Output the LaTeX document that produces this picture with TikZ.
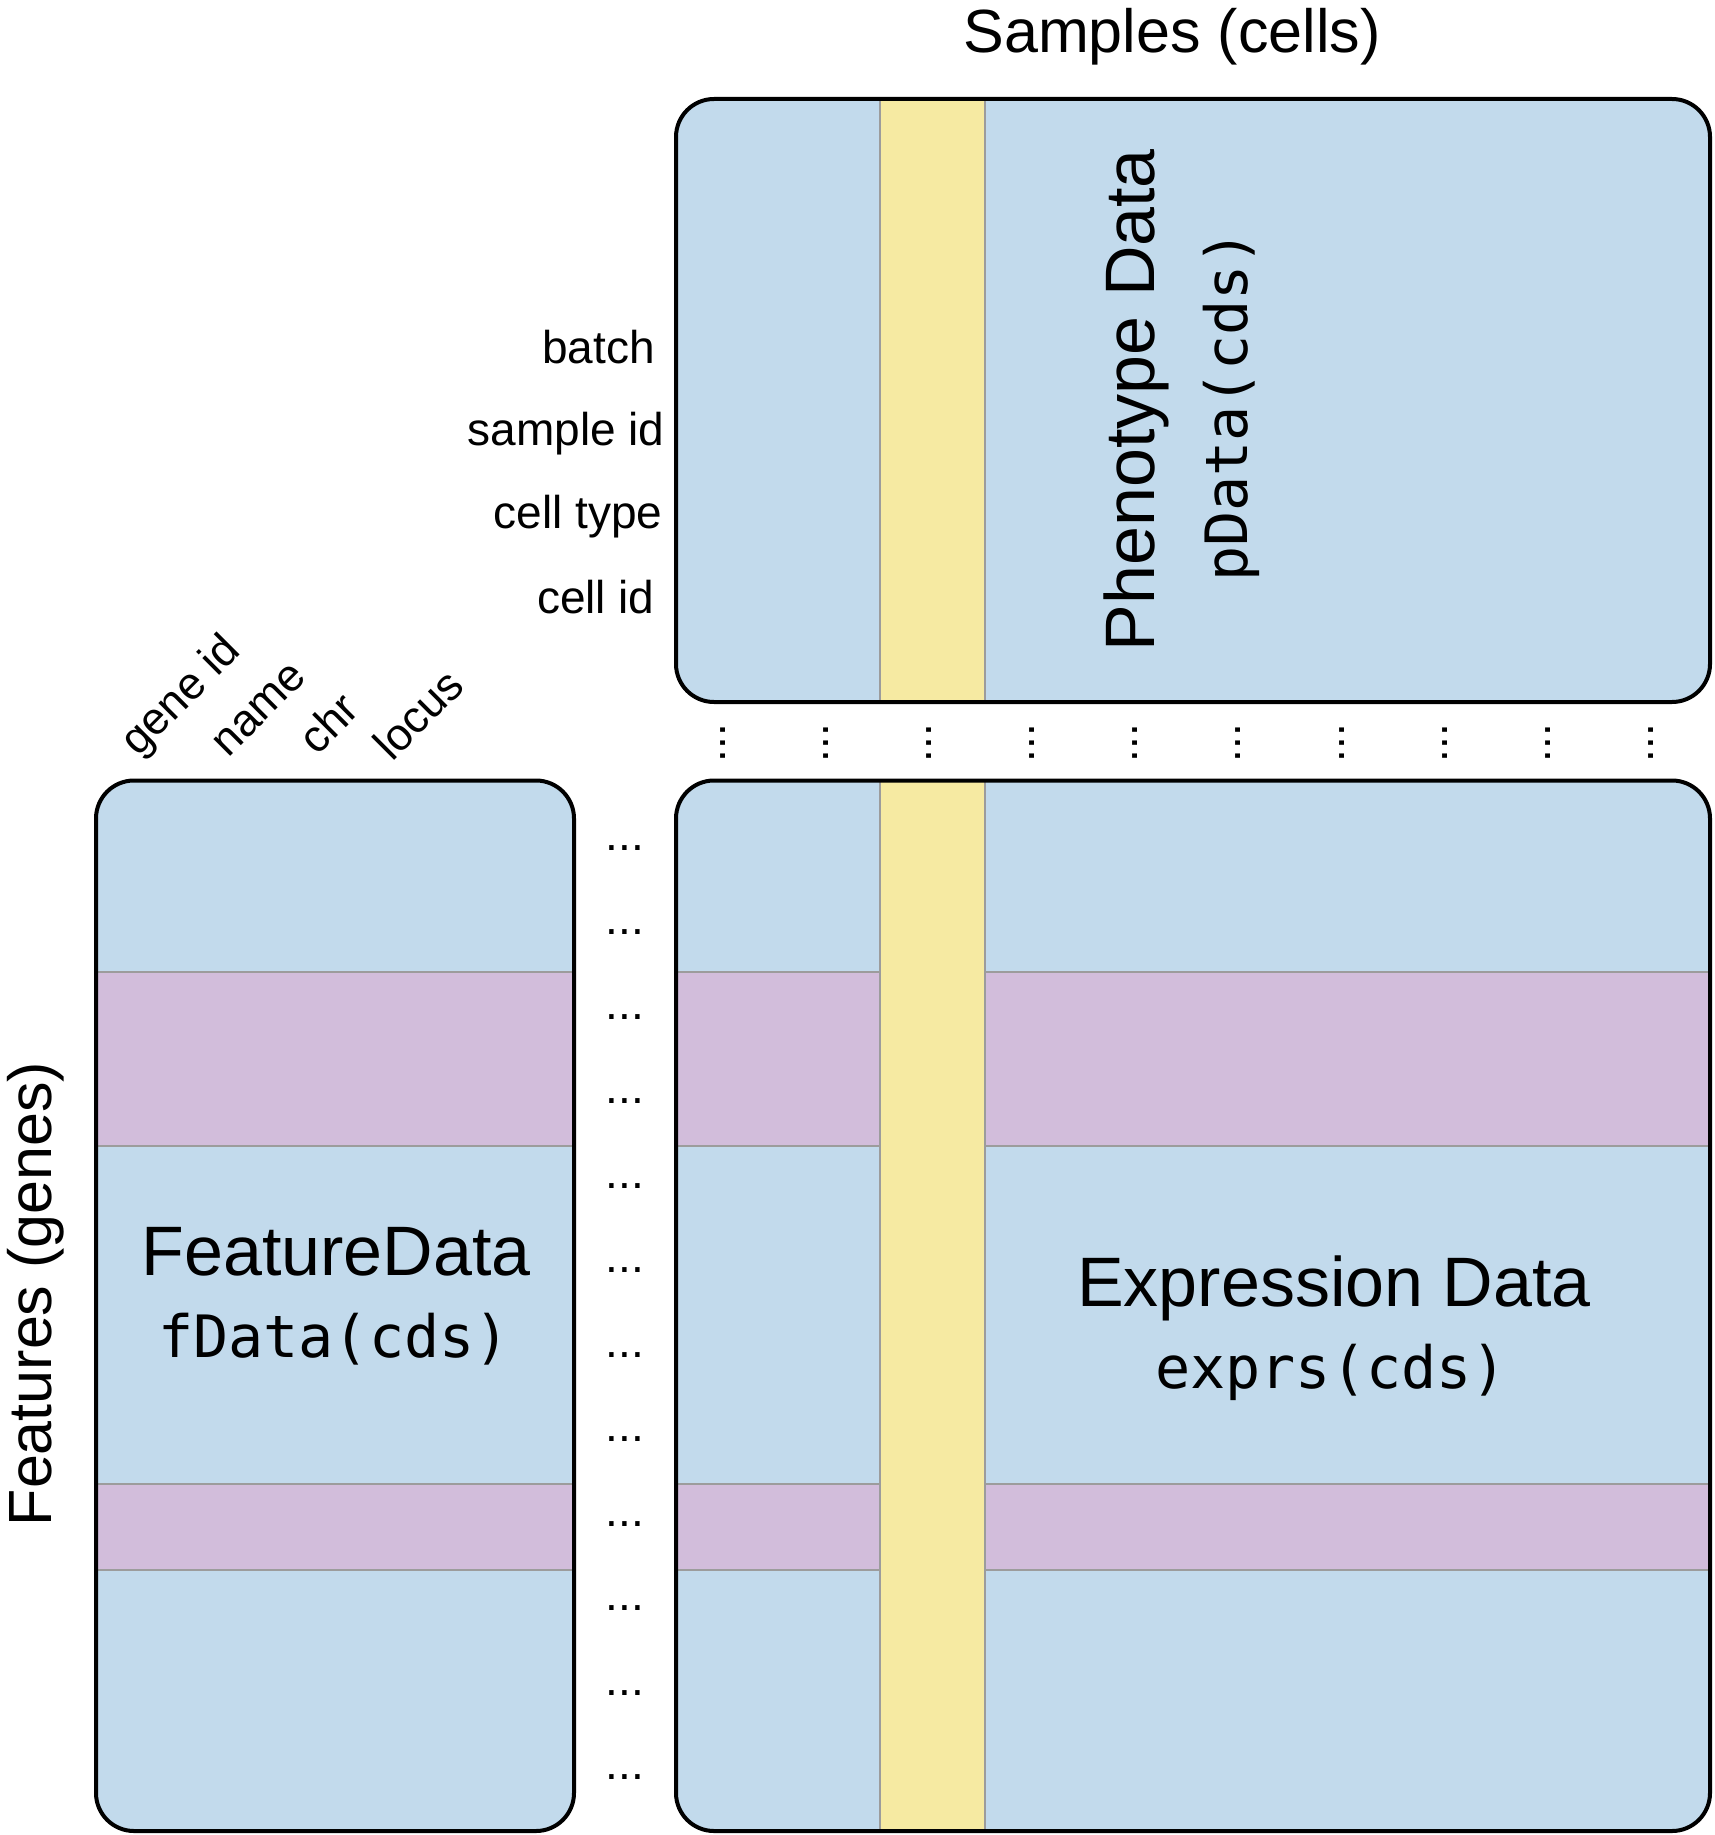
\documentclass[tikz,border=0pt]{standalone}
\usepackage{fontspec}
\setmainfont{Liberation Sans}
\setmonofont{DejaVu Sans Mono}
\definecolor{cblue}{HTML}{C2DAEC}
\definecolor{cyellow}{HTML}{F6EAA2}
\definecolor{cpurple}{HTML}{D2BDDB}
\definecolor{cgrid}{HTML}{9C9C9C}
\begin{document}
\begin{tikzpicture}[x=0.5pt,y=-0.5pt,
  outline/.style={draw=black,line width=2pt,rounded corners=19pt},
  sep/.style={draw=cgrid,line width=1pt},
  titlefont/.style={font=\fontsize{30.5}{36}\selectfont,inner sep=0pt},
  lbl/.style={font=\fontsize{23}{27}\selectfont,inner sep=0pt},
  anglbl/.style={font=\fontsize{22.5}{27}\selectfont,inner sep=0pt,rotate=45},
  big/.style={font=\fontsize{35}{42}\selectfont,inner sep=0pt},
  mono/.style={font=\fontsize{29.2}{35}\selectfont\ttfamily,inner sep=0pt},
  dotlbl/.style={font=\fontsize{23}{27}\selectfont,inner sep=0pt}]
\useasboundingbox (0,0) rectangle (1714,1835);

% ---- top box: phenotype data
\begin{scope}
  \clip[rounded corners=19pt] (676,99) rectangle (1710,702);
  \fill[cblue] (676,99) rectangle (1710,702);
  \fill[cyellow] (879.5,99) rectangle (984.5,702);
  \draw[sep] (879.5,99) -- (879.5,702) (984.5,99) -- (984.5,702);
\end{scope}
\draw[outline] (676,99) rectangle (1710,702);

% ---- bottom left box: feature data
\begin{scope}
  \clip[rounded corners=19pt] (96,780.5) rectangle (574,1831);
  \fill[cblue] (96,780.5) rectangle (574,1831);
  \fill[cpurple] (96,972) rectangle (574,1146);
  \fill[cpurple] (96,1484) rectangle (574,1570);
  \draw[sep] (96,972) -- (574,972) (96,1146) -- (574,1146)
             (96,1484) -- (574,1484) (96,1570) -- (574,1570);
\end{scope}
\draw[outline] (96,780.5) rectangle (574,1831);

% ---- bottom right box: expression data
\begin{scope}
  \clip[rounded corners=19pt] (676,780.5) rectangle (1710,1831);
  \fill[cblue] (676,780.5) rectangle (1710,1831);
  \fill[cpurple] (676,972) rectangle (1710,1146);
  \fill[cpurple] (676,1484) rectangle (1710,1570);
  \draw[sep] (676,972) -- (1710,972) (676,1146) -- (1710,1146)
             (676,1484) -- (1710,1484) (676,1570) -- (1710,1570);
  \fill[cyellow] (879.5,780.5) rectangle (984.5,1831);
  \draw[sep] (879.5,780.5) -- (879.5,1831) (984.5,780.5) -- (984.5,1831);
\end{scope}
\draw[outline] (676,780.5) rectangle (1710,1831);

% ---- texts
\node[titlefont,anchor=base] (samples) at (1172,53) {Samples (cells)};
\node[titlefont,rotate=90] (features) at (36,1294) {Features (genes)};

\node[lbl,anchor=base east] (batch) at (655,363) {batch};
\node[lbl,anchor=base east] (sampleid) at (665,445) {sample id};
\node[lbl,anchor=base east] (celltype) at (663,528) {cell type};
\node[lbl,anchor=base east] (cellid) at (655,613) {cell id};

\node[anglbl] (geneid) at (182,697) {gene id};
\node[anglbl] (name) at (260,710) {name};
\node[anglbl] (chr) at (328,723) {chr};
\node[anglbl] (locus) at (418,714) {locus};

\node[big,rotate=90] (pheno) at (1136,400) {Phenotype Data};
\node[mono,rotate=90] (pdata) at (1231,406) {pData(cds)};

\node[big,anchor=base] (featdata) at (336,1275) {FeatureData};
\node[mono,anchor=base] (fdata) at (334,1357) {fData(cds)};

\node[big,anchor=base] (exprdata) at (1334,1306) {Expression Data};
\node[mono,anchor=base] (exprs) at (1331,1388) {exprs(cds)};

% ---- ellipsis dots
\foreach \i in {0,...,9}
  \node[dotlbl,rotate=90] (vd\i) at ({723+103.1*\i},743) {...};
\foreach \i in {0,...,11}
  \node[dotlbl] (hd\i) at (625,{848+84.5*\i}) {...};
\end{tikzpicture}
\end{document}
